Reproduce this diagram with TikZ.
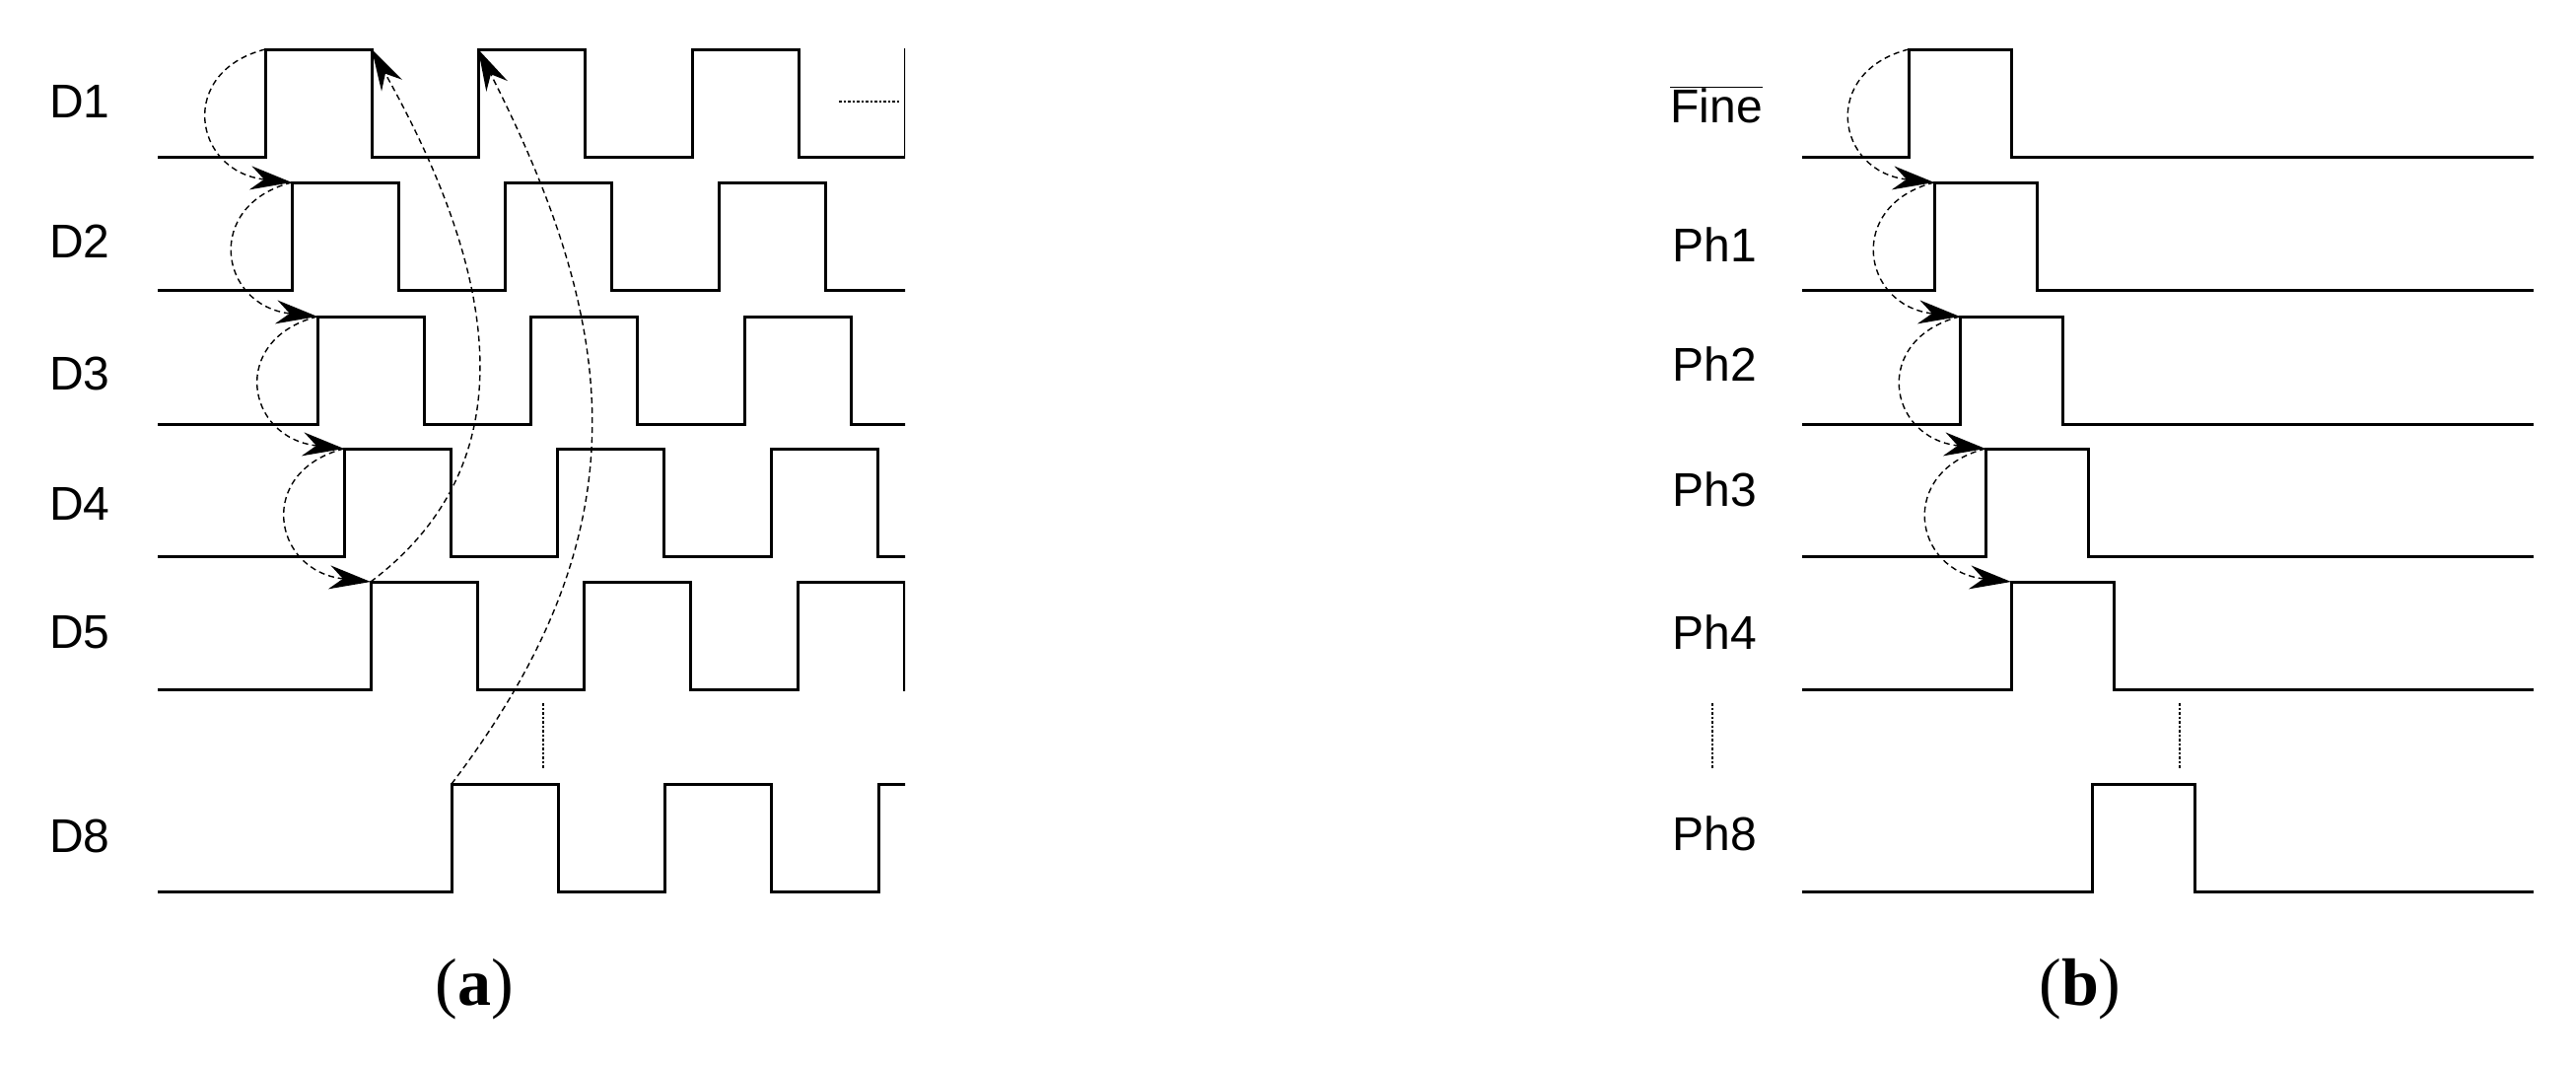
\documentclass[tikz,border=0pt]{standalone}
\usepackage{fontspec}
\setmainfont{Liberation Sans}
\newfontfamily\capfont{Liberation Serif}
\usetikzlibrary{arrows.meta}
\begin{document}
\begin{tikzpicture}[x=1pt,y=-1pt, wave/.style = {line width=3pt, line join=miter},
  arc/.style = {dashed, dash pattern=on 6pt off 4pt, line width=1.4pt, -{Stealth[length=42pt,width=24pt]}},
  dots/.style = {dotted, line width=2.5pt},
  lbl/.style = {font=\fontsize{48}{48}\selectfont},
  subcap/.style = {font=\fontsize{68}{68}\selectfont\capfont}]
\useasboundingbox (0,0) rectangle (2613,1079);

% (a) clock phases D1..D5, D8
\begin{scope}
\clip (150,0) rectangle (918.2,1079);
\foreach \k/\hi/\r in {1/50/269, 2/185/296, 3/321/322, 4/455/349, 5/590/376, 8/795/458} {
  \draw[wave] (160,\hi+109) -- (\r,\hi+109)
    \foreach \j in {1,...,4} { -- ++(0,-109) -- ++(108.3,0) -- ++(0,109) -- ++(108.3,0) };
  \coordinate (t\k) at (\r,\hi);
}
\end{scope}
\coordinate (f1) at (377,50);
\coordinate (s1) at (485,50);

\foreach \k/\y in {1/103, 2/245, 3/379, 4/511, 5/641, 8/848}
  \node[lbl] (d\k) at (81,\y) {D\k};

\draw[arc] (t1) .. controls +(-90,23) and +(-100,-11) .. (t2);
\draw[arc] (t2) .. controls +(-90,23) and +(-100,-11) .. (t3);
\draw[arc] (t3) .. controls +(-90,23) and +(-100,-11) .. (t4);
\draw[arc] (t4) .. controls +(-90,23) and +(-100,-11) .. (t5);
\draw[arc] (t5) .. controls +(150,-113) and +(140,250) .. (f1);
\draw[arc] (t8) .. controls +(190,-250) and +(150,295) .. (s1);

\draw[dots] (851,103) -- (913,103);
\draw[dots] (551,713) -- (551,779);
\node[subcap] (ca) at (481,1003) {(\textbf{a})};

% (b) Fine and Ph1..Ph4, Ph8
\foreach \k/\hi/\r in {0/50/1936, 1/185/1962, 2/321/1988, 3/455/2014, 4/590/2040, 8/795/2122} {
  \draw[wave] (1828,\hi+109) -- (\r,\hi+109) -- ++(0,-109) -- ++(104.5,0) -- ++(0,109) -- (2570,\hi+109);
  \coordinate (p\k) at (\r,\hi);
}
\node[lbl] (fine) at (1741,106) {$\overline{\mbox{Fine}}$};
\foreach \k/\y in {1/248, 2/369, 3/496, 4/641, 8/845}
  \node[lbl] (ph\k) at (1739,\y) {Ph\k};

\draw[arc] (p0) .. controls +(-90,23) and +(-100,-11) .. (p1);
\draw[arc] (p1) .. controls +(-90,23) and +(-100,-11) .. (p2);
\draw[arc] (p2) .. controls +(-90,23) and +(-100,-11) .. (p3);
\draw[arc] (p3) .. controls +(-90,23) and +(-100,-11) .. (p4);

\draw[dots] (1737,713) -- (1737,779);
\draw[dots] (2211,713) -- (2211,779);
\node[subcap] (cb) at (2110,1003) {(\textbf{b})};
\end{tikzpicture}
\end{document}
